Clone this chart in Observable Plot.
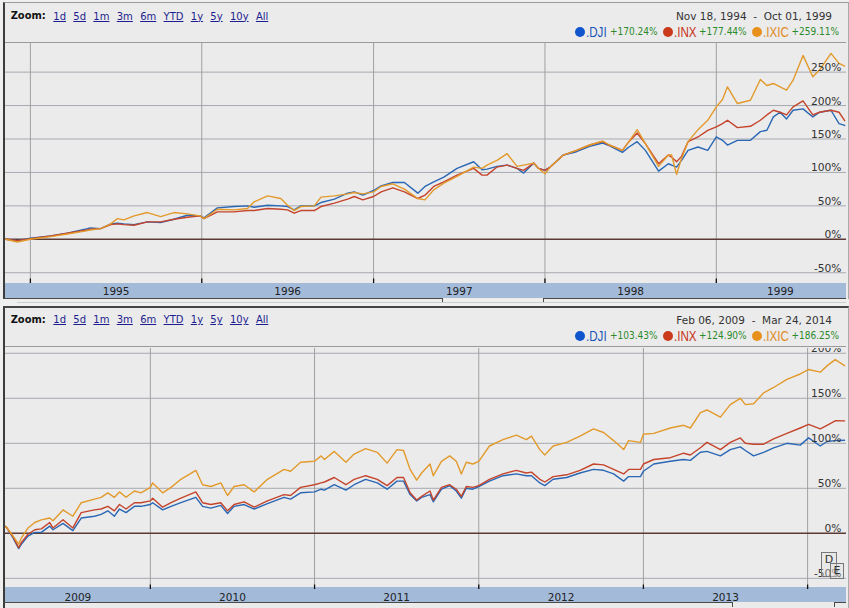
<!DOCTYPE html>
<html>
<head>
<meta charset="utf-8">
<script src="https://cdn.jsdelivr.net/npm/d3@7"></script>
<script src="https://cdn.jsdelivr.net/npm/@observablehq/plot@0.6"></script>
<style>
html,body{margin:0;padding:0;}
body{width:849px;height:608px;overflow:hidden;position:relative;background:#efefef;font-family:"DejaVu Sans",Verdana,sans-serif;color:#222;}
.panel{position:absolute;left:3px;width:843px;background:#ebebeb;border-left:2px solid #3c3c3c;border-right:1px solid #a8a8a8;}
.zoom{position:absolute;left:10.7px;font:bold 11px "DejaVu Sans Condensed","DejaVu Sans",sans-serif;color:#111;line-height:12px;}
.links{position:absolute;left:53.3px;font-size:10px;line-height:12px;white-space:nowrap;}
.links span{color:#1d1d8f;text-decoration:underline;margin-right:7.3px;}
.range{position:absolute;right:17px;font-size:10.5px;color:#333;white-space:pre;line-height:12px;}
.legend{position:absolute;right:5px;display:flex;align-items:center;white-space:nowrap;height:16px;}
.dot{width:10px;height:10px;border-radius:50%;display:inline-block;margin-right:1px;}
.nm{display:inline-block;font:14.5px "Liberation Sans",Arial,sans-serif;line-height:16px;transform:scaleX(0.8);transform-origin:0 50%;}
.pct{font:10px "DejaVu Sans Condensed","DejaVu Sans",sans-serif;color:#2b8a2b;margin-right:5px;line-height:16px;}
.band{position:absolute;left:5px;width:841px;height:15px;background:#a3bbd9;}
.hl{position:absolute;height:1px;background:#4a4a4a;}
.vl{position:absolute;width:1px;background:#4a4a4a;}
.flag{position:absolute;border:1px solid #777;background:rgba(226,226,226,0.35);font:11px "DejaVu Sans",sans-serif;color:#333;text-align:center;}
</style>
</head>
<body>
<script>
// ---------------- DATA ----------------
const names = [".DJI", ".INX", ".IXIC"];
const dotColors = ["#1155cc", "#cc3a1c", "#e8901c"];
const nameColors = ["#1a56b8", "#c8341a", "#e08a1e"];
const lineColors = ["#2a67b4", "#c4442c", "#e39a2c"];
const zoomLinks = ["1d", "5d", "1m", "3m", "6m", "YTD", "1y", "5y", "10y", "All"];

// Panel 1: Nov 18, 1994 - Oct 01, 1999 (dates as decimal years, values in %)
const range94 = "Nov 18, 1994  -  Oct 01, 1999";
const chg94 = ["+170.24%", "+177.44%", "+259.11%"];
const yTicks94 = [-50, 0, 50, 100, 150, 200, 250];
const yearBounds94 = [1995, 1996, 1997, 1998, 1999];
const yearLabels94 = [1995, 1996, 1997, 1998, 1999];
const t94 = [1994.856,1994.924,1995.000,1995.119,1995.216,1995.333,1995.348,1995.410,1995.469,1995.508,1995.546,1995.605,1995.683,1995.760,1995.838,1995.916,1995.990,1996.013,1996.091,1996.188,1996.266,1996.305,1996.383,1996.460,1996.499,1996.538,1996.577,1996.655,1996.694,1996.772,1996.849,1996.888,1996.937,1997.000,1997.044,1997.112,1997.180,1997.258,1997.300,1997.351,1997.410,1997.487,1997.584,1997.633,1997.662,1997.720,1997.779,1997.837,1997.876,1997.934,1997.963,1998.000,1998.031,1998.107,1998.184,1998.261,1998.337,1998.375,1998.452,1998.490,1998.538,1998.586,1998.663,1998.720,1998.739,1998.768,1998.797,1998.835,1998.893,1998.950,1999.000,1999.036,1999.065,1999.123,1999.199,1999.257,1999.295,1999.333,1999.372,1999.410,1999.448,1999.506,1999.563,1999.602,1999.669,1999.716,1999.749];
const dji94 = [0,-2,1.5,5,9,16,17,16,23,24,23,22,26,25,30,36,35,32,47,49,50,48,51,50,49,44,50,50,55,60,69,71,66,73,80,85,85,69,79,86,93,106,116,104,105,109,111,106,99,114,106,103,108,126,131,139,144,140,130,138,146,133,102,113,111,108,118,133,138,133,153,148,141,148,148,161,163,183,190,180,193,195,183,190,193,173,170.24];
const inx94 = [0,-2,1,5,9,14,15,16,22,23,22,21,26,26,30,33,35,31,41,41,43,43,46,45,44,39,43,43,49,54,60,64,59,64,71,77,71,61,66,79,86,96,106,96,96,108,111,106,103,114,106,103,108,126,133,141,146,141,133,146,159,143,113,126,123,116,124,146,153,163,168,173,178,167,169,178,186,193,190,186,198,207,186,190,193,190,177.44];
const ixic94 = [0,-4,0,4,8,13,14,16,23,31,29,35,40,34,40,38,35,31,45,44,46,56,65,61,51,43,49,50,63,65,68,70,68,71,79,83,75,61,59,74,84,94,108,106,111,118,128,109,111,114,106,98,108,126,133,141,147,141,133,146,164,143,109,126,126,97,121,146,164,178,198,209,228,203,208,239,230,233,228,223,238,275,243,253,278,263,259.11];

// Panel 2: Feb 06, 2009 - Mar 24, 2014
const range09 = "Feb 06, 2009  -  Mar 24, 2014";
const chg09 = ["+103.43%", "+124.90%", "+186.25%"];
const yTicks09 = [-50, 0, 50, 100, 150, 200];
const yearBounds09 = [2010, 2011, 2012, 2013, 2014];
const yearLabels09 = [2009, 2010, 2011, 2012, 2013];
const t09 = [2009.100,2009.123,2009.164,2009.198,2009.215,2009.255,2009.296,2009.336,2009.387,2009.407,2009.468,2009.528,2009.579,2009.660,2009.700,2009.741,2009.781,2009.812,2009.852,2009.903,2009.943,2010.000,2010.014,2010.075,2010.126,2010.186,2010.277,2010.318,2010.368,2010.429,2010.470,2010.510,2010.571,2010.632,2010.713,2010.814,2010.854,2010.915,2011.000,2011.040,2011.060,2011.120,2011.191,2011.241,2011.311,2011.382,2011.442,2011.502,2011.542,2011.582,2011.622,2011.652,2011.703,2011.723,2011.773,2011.823,2011.863,2011.894,2011.924,2011.964,2012.000,2012.065,2012.147,2012.228,2012.289,2012.320,2012.371,2012.401,2012.452,2012.534,2012.615,2012.697,2012.758,2012.819,2012.880,2012.910,2012.982,2013.000,2013.063,2013.164,2013.245,2013.286,2013.347,2013.387,2013.469,2013.529,2013.590,2013.621,2013.671,2013.732,2013.793,2013.874,2013.955,2014.006,2014.077,2014.118,2014.168,2014.225];
const dji09 = [9,7,-5,-17,-12,-3,1,1,8,4,11,3,17,19,21,25,19,27,23,30,30,32,34,26,30,34,40,30,28,31,22,30,32,27,33,40,38,45,46,49,48,54,48,54,60,56,49,58,58,43,36,40,43,35,49,53,47,39,50,49,52,58,64,66,64,64,56,53,60,62,67,71,70,66,58,63,63,69,77,80,82,81,90,91,86,93,96,92,86,90,95,100,98,106,97,102,103,103.43];
const inx09 = [9,7,-4,-16,-10,-1,4,5,12,6,15,6,23,26,27,30,25,32,27,34,34,36,39,29,34,39,46,34,32,34,25,32,35,29,36,43,42,51,54,56,57,62,54,60,64,60,53,62,62,45,37,41,47,37,51,54,49,41,52,51,53,60,66,70,67,68,60,57,63,65,70,77,76,71,66,71,71,77,82,84,89,87,95,101,93,101,106,100,99,99,105,111,117,121,116,120,125,124.90];
const ixic09 = [9,7,-3,-12,-5,6,12,15,17,14,26,19,34,38,40,45,40,46,40,47,45,51,56,45,51,60,70,54,52,56,42,52,54,46,60,71,69,79,80,86,82,91,79,88,94,90,78,93,92,71,59,67,77,64,80,86,80,66,79,77,80,97,104,109,104,108,93,87,97,101,108,116,112,103,93,103,101,110,111,117,120,117,134,137,129,143,150,143,144,156,162,171,177,182,179,186,193,186.25];

// ---------------- HELPERS ----------------
const yearToDate = t => {
  const y = Math.floor(t), a = Date.UTC(y, 0, 1), b = Date.UTC(y + 1, 0, 1);
  return new Date(a + (t - y) * (b - a));
};

function el(tag, cls, style, text) {
  const e = document.createElement(tag);
  if (cls) e.className = cls;
  if (style) e.setAttribute("style", style);
  if (text != null) e.textContent = text;
  document.body.appendChild(e);
  return e;
}

function chart(cfg) {
  const rows = [];
  names.forEach((n, i) => cfg.t.forEach((t, j) => rows.push({name: n, date: yearToDate(t), value: cfg.vals[i][j]})));
  const [d0, d1] = cfg.domain;
  const bounds = cfg.bounds.map(y => new Date(Date.UTC(y, 0, 1)));
  const labels = cfg.labels.map(y => {
    const a = Math.max(Date.UTC(y, 0, 1), +d0), b = Math.min(Date.UTC(y + 1, 0, 1), +d1);
    return {date: new Date((a + b) / 2), label: String(y)};
  });
  const pxPerPct = 241 / (cfg.yDomain[1] - cfg.yDomain[0]);
  const svg = Plot.plot({
    width: 849, height: 256,
    marginLeft: 5, marginRight: 3, marginTop: 0, marginBottom: 15,
    style: {background: "transparent", overflow: "hidden", fontFamily: "DejaVu Sans, sans-serif"},
    x: {type: "utc", domain: cfg.domain, range: [5, 844], axis: null},
    y: {domain: cfg.yDomain, axis: null},
    color: {domain: names, range: lineColors},
    marks: [
      Plot.ruleY(cfg.yTicks.filter(v => v !== 0), {stroke: "#a7a9b1", strokeWidth: 1}),
      Plot.ruleX(bounds, {stroke: "#a0a0a0", strokeWidth: 1}),
      Plot.ruleY([0], {stroke: "#5c3a34", strokeWidth: 1.4}),
      Plot.ruleX(bounds, {y1: cfg.yDomain[0], y2: cfg.yDomain[0] + 4.5 / pxPerPct, stroke: "#111", strokeWidth: 1.3}),
      Plot.line(rows, {x: "date", y: "value", z: "name", stroke: "name", strokeWidth: 1.4, clip: true}),
      Plot.text(cfg.yTicks, {y: d => d, text: d => d + "%", frameAnchor: "right", textAnchor: "end", lineAnchor: "bottom", dx: -5, dy: -1, fontSize: 10.7, fill: "#333"}),
      Plot.text(labels, {x: "date", text: "label", frameAnchor: "bottom", lineAnchor: "middle", dy: 8, fontSize: 10.5, fill: "#222"})
    ]
  });
  svg.style.position = "absolute";
  svg.style.left = "0px";
  svg.style.top = cfg.top + "px";
  document.body.appendChild(svg);
}

function panel(off, cfg) {
  el("div", "panel", `top:${off}px;height:${cfg.panelH}px;border-top:${cfg.border}`);
  el("div", "zoom", `top:${off + 8}px`, "Zoom:");
  const lk = el("div", "links", `top:${off + 8.5}px`);
  zoomLinks.forEach(z => { const s = document.createElement("span"); s.textContent = z; lk.appendChild(s); });
  el("div", "range", `top:${off + 8}px`, cfg.range);
  const lg = el("div", "legend", `top:${off + 22.3}px`);
  names.forEach((n, i) => {
    const d = document.createElement("span"); d.className = "dot"; d.style.background = dotColors[i]; lg.appendChild(d);
    const a = document.createElement("span"); a.className = "nm"; a.style.color = nameColors[i]; a.textContent = n; lg.appendChild(a);
    a.style.marginRight = (3 - a.getBoundingClientRect().width / 0.8 * 0.2) + "px";
    const p = document.createElement("span"); p.className = "pct"; p.textContent = cfg.chg[i]; lg.appendChild(p);
  });
  // chart frame top line
  el("div", "", `position:absolute;left:5px;width:841px;top:${off + 40}px;height:1px;background:#9a9a9a`);
  // axis band
  el("div", "band", `top:${off + 281.3}px`);
  // band bottom line with scrollbar thumb gap
  const yb = off + 296.3;
  el("div", "hl", `left:3px;width:${cfg.thumb[0] - 3}px;top:${yb}px`);
  el("div", "vl", `left:${cfg.thumb[0]}px;top:${yb}px;height:5px`);
  el("div", "vl", `left:${cfg.thumb[1]}px;top:${yb}px;height:5px`);
  el("div", "hl", `left:${cfg.thumb[1]}px;width:${846 - cfg.thumb[1]}px;top:${yb}px`);
}

// ---------------- PANEL 1 ----------------
panel(2, {panelH: 296, border: "1px solid #9a9a9a", range: range94, chg: chg94, thumb: [442, 543]});
el("div", "", "position:absolute;left:17px;width:829px;top:301.5px;height:1px;background:#cdcdcd");
chart({
  top: 42, t: t94, vals: [dji94, inx94, ixic94],
  domain: [new Date(Date.UTC(1994, 10, 9)), new Date(Date.UTC(1999, 9, 1))],
  yDomain: [-66.1, 294.3], yTicks: yTicks94, bounds: yearBounds94, labels: yearLabels94
});

// ---------------- PANEL 2 ----------------
panel(305.5, {panelH: 310, border: "2px solid #444", range: range09, chg: chg09, thumb: [732, 834]});
chart({
  top: 347.5, t: t09, vals: [dji09, inx09, ixic09],
  domain: [new Date(Date.UTC(2009, 1, 13)), new Date(Date.UTC(2014, 2, 24))],
  yDomain: [-62.4, 205.3], yTicks: yTicks09, bounds: yearBounds09, labels: yearLabels09
});

// event flags at the right end of panel 2
el("div", "flag", "left:821px;top:552px;width:14px;height:23px;line-height:13px", "D");
el("div", "flag", "left:830px;top:563px;width:12px;height:14px;line-height:14px", "E");
</script>
</body>
</html>
